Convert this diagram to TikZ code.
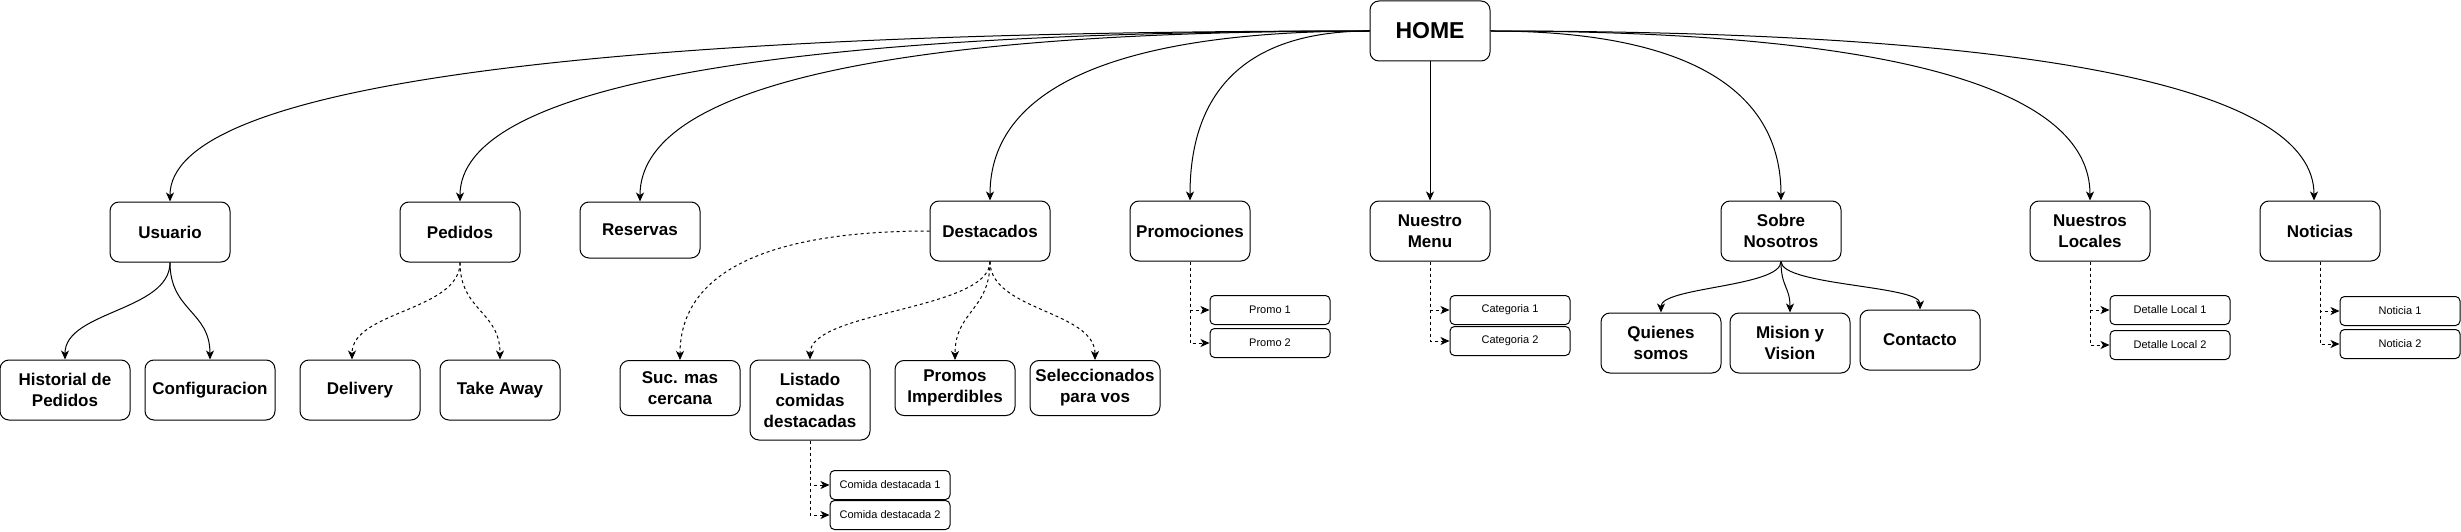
\documentclass[tikz,border=0pt]{standalone}
\usepackage{fontspec}
\setmainfont{Liberation Sans}
\usetikzlibrary{arrows.meta, calc}

\tikzset{
  box/.style={draw, rounded corners=9pt, line width=1pt, align=center, inner sep=0pt,
    minimum width=120pt, minimum height=60pt, font=\bfseries\fontsize{17}{21}\selectfont},
  widebox/.style={box, minimum width=130pt},
  item/.style={draw, rounded corners=4.5pt, line width=1pt, inner sep=0pt,
    minimum width=120pt, minimum height=29pt, font=\fontsize{11}{13}\selectfont},
  link/.style={line width=1pt, -{Stealth[length=9pt, width=8pt, inset=2.5pt]}},
  dashlink/.style={link, dash pattern=on 3pt off 3pt},
  % side exit, drop onto the top of the target
  hcurve/.style={to path={.. controls ($(\tikztostart)!2/3!(\tikztotarget|-\tikztostart)$)
    and ($(\tikztotarget)!2/3!(\tikztotarget|-\tikztostart)$) .. (\tikztotarget) \tikztonodes}},
  % bottom exit, s-bend onto the top of the target
  vcurve/.style={to path={.. controls ($(\tikztostart)!0.5!(\tikztostart|-\tikztotarget)$)
    and ($(\tikztotarget)!0.5!(\tikztotarget|-\tikztostart)$) .. (\tikztotarget) \tikztonodes}}
}

\begin{document}
\begin{tikzpicture}[x=1pt, y=-1pt]
\useasboundingbox (0,0) rectangle (2461,532);

% top
\node[box, font=\bfseries\fontsize{23}{27}\selectfont] (home) at (1430,31) {HOME};

% sections
\node[box] (usuario) at (170,232) {Usuario};
\node[box] (pedidos) at (460,232) {Pedidos};
\node[box, minimum height=56pt] (reservas) at (640,230) {Reservas};
\node[box] (destacados) at (990,231) {Destacados};
\node[box] (promociones) at (1190,231) {Promociones};
\node[box] (menu) at (1430,231) {Nuestro\\Menu};
\node[box] (sobre) at (1781,231) {Sobre\\Nosotros};
\node[box] (locales) at (2090,231) {Nuestros\\Locales};
\node[box] (noticias) at (2320,231) {Noticias};

% second level
\node[widebox] (historial) at (65,390) {Historial de\\Pedidos};
\node[widebox] (config) at (210,390) {Configuracion};
\node[box] (delivery) at (360,390) {Delivery};
\node[box] (takeaway) at (500,390) {Take Away};
\node[box, minimum height=55pt] (sucursal) at (680,388) {Suc. mas\\cercana};
\node[box, minimum height=80pt] (listado) at (810,400) {Listado\\comidas\\destacadas};
\node[box, minimum height=55pt] (imperdibles) at (955,388) {Promos\\Imperdibles};
\node[widebox, minimum height=55pt] (selecc) at (1095,388) {Seleccionados\\para vos};
\node[box] (quienes) at (1661,343) {Quienes\\somos};
\node[box] (mision) at (1790,343) {Mision y\\Vision};
\node[box] (contacto) at (1920,340) {Contacto};

% lists
\node[item] (comida1) at (890,485) {Comida destacada 1};
\node[item] (comida2) at (890,515) {Comida destacada 2};
\node[item] (promo1) at (1270,310) {Promo 1};
\node[item] (promo2) at (1270,343) {Promo 2};
\node[item] (cat1) at (1510,310) {Categoria 1};
\node[item] (cat2) at (1510,341) {Categoria 2};
\node[item] (local1) at (2170,310) {Detalle Local 1};
\node[item] (local2) at (2170,345) {Detalle Local 2};
\node[item] (noticia1) at (2400,311) {Noticia 1};
\node[item] (noticia2) at (2400,344) {Noticia 2};

\coordinate (delivery-in) at ([xshift=-8pt]delivery.north);
\coordinate (noticias-in) at ([xshift=-6pt]noticias.north);

% home links
\foreach \n in {usuario, pedidos, reservas, destacados, promociones}
  \draw[link] (home.west) to[hcurve] (\n.north);
\foreach \n in {sobre, locales}
  \draw[link] (home.east) to[hcurve] (\n.north);
\draw[link] (home.east) to[hcurve] (noticias-in);
\draw[link] (home.south) -- (menu.north);

% section links
\foreach \n in {historial, config}
  \draw[link] (usuario.south) to[vcurve] (\n.north);
\draw[dashlink] (pedidos.south) to[vcurve] (delivery-in);
\draw[dashlink] (pedidos.south) to[vcurve] (takeaway.north);
\draw[dashlink] (destacados.west) to[hcurve] (sucursal.north);
\foreach \n in {listado, imperdibles, selecc}
  \draw[dashlink] (destacados.south) to[vcurve] (\n.north);
\foreach \n in {quienes, mision, contacto}
  \draw[link] (sobre.south) to[vcurve] (\n.north);

% list links
\foreach \p/\a/\b in {listado/comida1/comida2, promociones/promo1/promo2,
    menu/cat1/cat2, locales/local1/local2, noticias/noticia1/noticia2} {
  \draw[dashlink] (\p.south) |- (\a.west);
  \draw[dashlink] (\p.south) |- (\b.west);
}
\end{tikzpicture}
\end{document}
